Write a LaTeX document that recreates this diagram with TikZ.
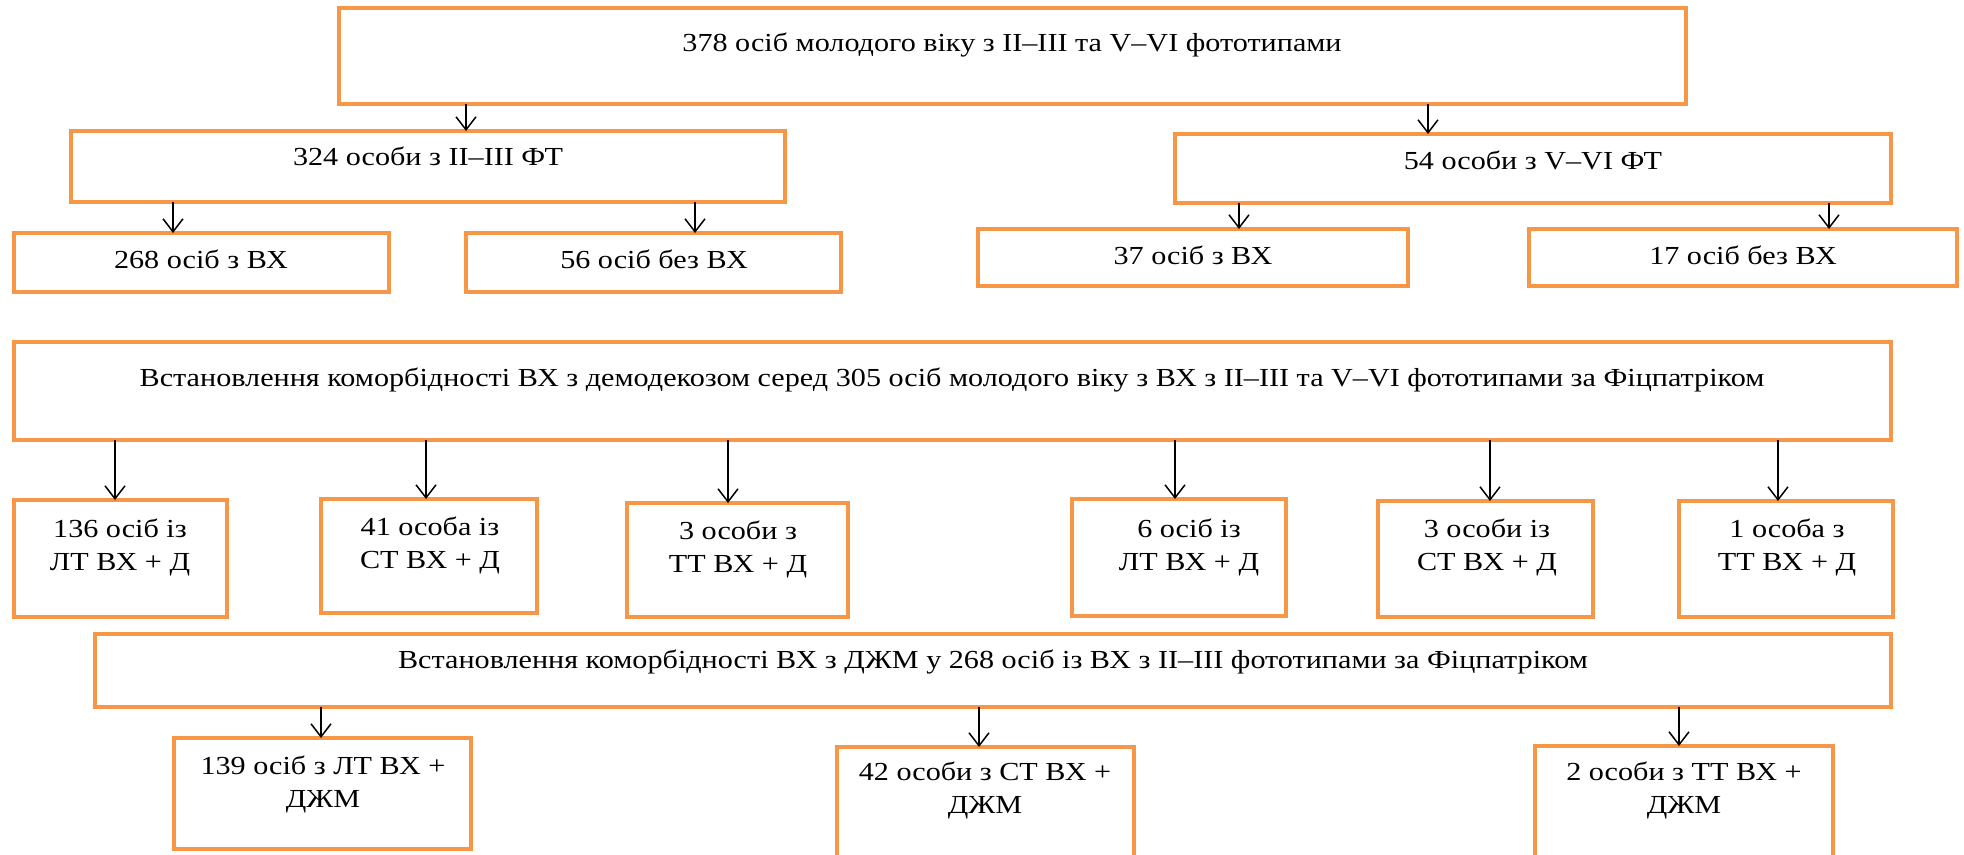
\documentclass[tikz,border=0pt]{standalone}
\usepackage{fontspec}
\setmainfont[FakeStretch=1.16]{Liberation Serif}
\usetikzlibrary{arrows.meta}
\definecolor{orng}{HTML}{F79646}
\tikzset{
  box/.style={draw=orng, line width=4pt, fill=white, rectangle, inner sep=0pt, outer sep=0pt},
  txt/.style={font=\fontsize{26}{33}\selectfont, align=center, inner sep=0pt},
  arr/.style={draw=black, line width=1.5pt, -{Straight Barb[length=13pt,width=20pt,line width=1.5pt]}},
}
\newcommand{\mkbox}[5]{\node[box, anchor=north west, minimum width=#3-#2, minimum height=#5-#4] (#1) at (#2,#4) {};}
\begin{document}
\begin{tikzpicture}[x=1pt,y=-1pt]
\useasboundingbox (0,0) rectangle (1964,854);
% boxes
\mkbox{top}{339}{1686}{8}{104}
\mkbox{bA}{71}{785}{131}{202}
\mkbox{bB}{1175}{1891}{134}{203}
\mkbox{cA}{14}{389}{233}{292}
\mkbox{cB}{466}{841}{233}{292}
\mkbox{cC}{978}{1408}{229}{286}
\mkbox{cD}{1529}{1957}{229}{286}
\mkbox{big}{14}{1891}{342}{440}
\mkbox{sA}{14}{227}{500}{617}
\mkbox{sB}{321}{537}{499}{613}
\mkbox{sC}{627}{848}{503}{617}
\mkbox{sD}{1072}{1286}{499}{616}
\mkbox{sE}{1378}{1593}{501}{617}
\mkbox{sF}{1679}{1893}{501}{617}
\mkbox{low}{95}{1891}{634}{707}
\mkbox{dA}{174}{471}{738}{849}
\mkbox{dB}{837}{1134}{747}{870}
\mkbox{dC}{1535}{1833}{746}{870}
% texts
\node[txt] (ttop) at (1012,45) {378 осіб молодого віку з II–III та V–VI фототипами};
\node[txt] (tbA) at (428,156) {324 особи з II–III ФТ};
\node[txt] (tbB) at (1533,160) {54 особи з V–VI ФТ};
\node[txt] (tcA) at (201,259) {268 осіб з ВХ};
\node[txt] (tcB) at (654,259) {56 осіб без ВХ};
\node[txt] (tcC) at (1193,255) {37 осіб з ВХ};
\node[txt] (tcD) at (1743,255) {17 осіб без ВХ};
\node[txt] (tbig) at (952,380) {Встановлення коморбідності ВХ з демодекозом серед 305 осіб молодого віку з ВХ з II–III та V–VI фототипами за Фіцпатріком};
\node[txt] (tsA) at (120,547) {136 осіб із\\ЛТ ВХ + Д};
\node[txt] (tsB) at (430,545) {41 особа із\\СТ ВХ + Д};
\node[txt] (tsC) at (738,549) {3 особи з\\ТТ ВХ + Д};
\node[txt] (tsD) at (1189,547) {6 осіб із\\ЛТ ВХ + Д};
\node[txt] (tsE) at (1487,547) {3 особи із\\СТ ВХ + Д};
\node[txt] (tsF) at (1787,547) {1 особа з\\ТТ ВХ + Д};
\node[txt] (tlow) at (993,662) {Встановлення коморбідності ВХ з ДЖМ у 268 осіб із ВХ з II–III фототипами за Фіцпатріком};
\node[txt] (tdA) at (323,784) {139 осіб з ЛТ ВХ +\\ДЖМ};
\node[txt] (tdB) at (985,790) {42 особи з СТ ВХ +\\ДЖМ};
\node[txt] (tdC) at (1684,790) {2 особи з ТТ ВХ +\\ДЖМ};
% arrows
\draw[arr] (top.south -| 466,0) -- (bA.north -| 466,0);
\draw[arr] (top.south -| 1428,0) -- (bB.north -| 1428,0);
\draw[arr] (bA.south -| 173,0) -- (cA.north -| 173,0);
\draw[arr] (bA.south -| 695,0) -- (cB.north -| 695,0);
\draw[arr] (bB.south -| 1239,0) -- (cC.north -| 1239,0);
\draw[arr] (bB.south -| 1829,0) -- (cD.north -| 1829,0);
\draw[arr] (big.south -| 115,0) -- (sA.north -| 115,0);
\draw[arr] (big.south -| 426,0) -- (sB.north -| 426,0);
\draw[arr] (big.south -| 728,0) -- (sC.north -| 728,0);
\draw[arr] (big.south -| 1175,0) -- (sD.north -| 1175,0);
\draw[arr] (big.south -| 1490,0) -- (sE.north -| 1490,0);
\draw[arr] (big.south -| 1778,0) -- (sF.north -| 1778,0);
\draw[arr] (low.south -| 321,0) -- (dA.north -| 321,0);
\draw[arr] (low.south -| 979,0) -- (dB.north -| 979,0);
\draw[arr] (low.south -| 1679,0) -- (dC.north -| 1679,0);
\end{tikzpicture}
\end{document}
